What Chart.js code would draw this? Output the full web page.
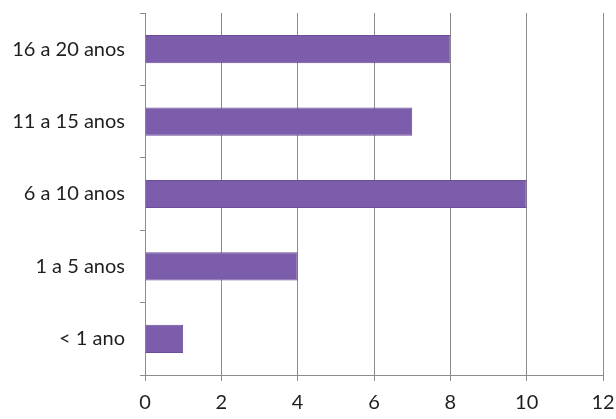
<!DOCTYPE html>
<html>
<head>
<meta charset="utf-8">
<script src="https://cdn.jsdelivr.net/npm/chart.js@4"></script>
<style>
  html, body { margin: 0; padding: 0; background: #fff; }
  #wrap { width: 616px; height: 419px; }
</style>
</head>
<body>
<div id="wrap"><canvas id="chart" width="616" height="419"></canvas></div>
<script>
// Tempo de serviço, por faixa
const categories = ['16 a 20 anos', '11 a 15 anos', '6 a 10 anos', '1 a 5 anos', '< 1 ano'];
const counts = [8, 7, 10, 4, 1];
const xTicks = [0, 2, 4, 6, 8, 10, 12];

const gridColor = '#8c8c8c';
const textColor = '#1f1f1f';

const ctx = document.getElementById('chart').getContext('2d');
new Chart(ctx, {
  type: 'bar',
  data: {
    labels: categories,
    datasets: [{
      data: counts,
      backgroundColor: '#7c5dab',
      borderColor: '#6b4d9a',
      borderWidth: 1,
      barPercentage: 0.39,
      categoryPercentage: 1
    }]
  },
  options: {
    indexAxis: 'y',
    responsive: false,
    animation: false,
    layout: { padding: { top: 13, right: 13, bottom: 0, left: 0 } },
    plugins: {
      legend: { display: false },
      tooltip: { enabled: false }
    },
    scales: {
      x: {
        min: xTicks[0],
        max: xTicks[xTicks.length - 1],
        afterBuildTicks: (scale) => { scale.ticks = xTicks.map(v => ({ value: v })); },
        afterFit: (scale) => {
          scale.height = 44;
          scale.paddingLeft = 0;
          scale.paddingRight = 0;
        },
        grid: { color: gridColor, lineWidth: 1, tickLength: 6 },
        border: { color: gridColor },
        ticks: {
          color: textColor,
          padding: 10,
          font: { family: 'Lato', size: 20 }
        }
      },
      y: {
        afterFit: (scale) => {
          scale.width = 145;
          scale.paddingTop = 0;
          scale.paddingBottom = 0;
        },
        grid: { color: gridColor, drawOnChartArea: false, offset: true, tickLength: 5 },
        border: { color: gridColor },
        ticks: {
          color: textColor,
          padding: 15,
          font: { family: 'Lato', size: 20 }
        }
      }
    }
  }
});
</script>
</body>
</html>
